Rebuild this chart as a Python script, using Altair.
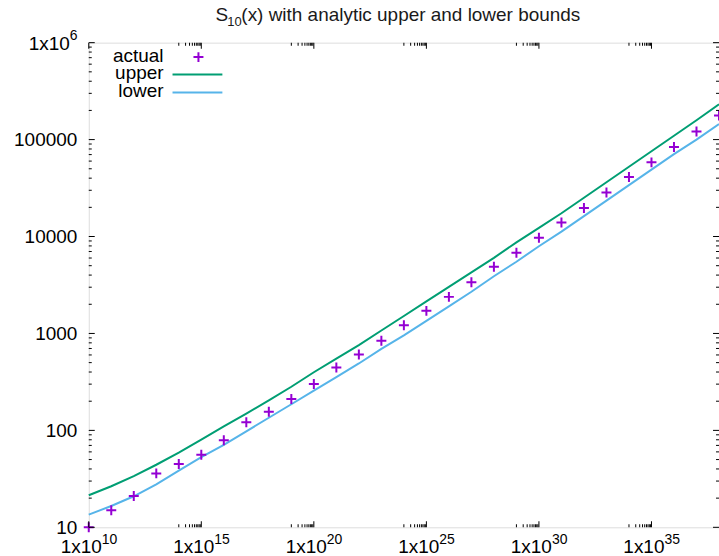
import altair as alt
import pandas as pd

# ---- data ----
x_values = [1e10, 1e11, 1e12, 1e13, 1e14, 1e15, 1e16, 1e17, 1e18, 1e19, 1e20,
            1e21, 1e22, 1e23, 1e24, 1e25, 1e26, 1e27, 1e28, 1e29, 1e30,
            1e31, 1e32, 1e33, 1e34, 1e35, 1e36, 1e37, 1e38]
actual = [10, 15, 21, 36, 45, 56, 79, 121, 156, 211, 301,
          446, 607, 839, 1216, 1710, 2384, 3373, 4876, 6792, 9700,
          13970, 19730, 28440, 41100, 58200, 83700, 121400, 177000]
upper = [21.4, 26.5, 33.8, 44.2, 58.9, 80.4, 110, 149, 204, 282, 398,
         550, 759, 1072, 1514, 2138, 3020, 4266, 6026, 8710, 12300,
         17380, 25120, 36310, 52480, 75860, 109600, 158500, 231700]
lower = [13.5, 16.6, 20.9, 27.8, 38.5, 53.0, 70.8, 97.7, 135, 186, 257,
         355, 490, 692, 955, 1349, 1905, 2692, 3890, 5495, 7943,
         11220, 16220, 23440, 33880, 48980, 70790, 100000, 144500]

series_names = ["actual", "upper", "lower"]
title_parts = ["S", "10", "(x) with analytic upper and lower bounds"]

x_major = [1e10, 1e15, 1e20, 1e25, 1e30, 1e35]
x_major_exp = ["10", "15", "20", "25", "30", "35"]
x_minor = [k * 10.0 ** (m - 1) for m in (15, 20, 25, 30, 35) for k in range(1, 10)]
y_label_values = [10, 100, 1000, 10000, 100000]
y_major = [10, 100, 1000, 10000, 100000, 1000000]
y_minor = [k * 10.0 ** n for n in range(1, 6) for k in range(2, 10)]

PURPLE = "#9400D3"
GREEN = "#009E73"
BLUE = "#56B4E9"
FONT = "Liberation Sans"

df = pd.DataFrame({"x": x_values, "actual": actual, "upper": upper, "lower": lower})

xs = alt.Scale(type="log", domain=[1e10, 1e38], nice=False)
ys = alt.Scale(type="log", domain=[10, 1e6], nice=False)

X = alt.X("x:Q", scale=xs, axis=None)
yaxis = alt.Axis(values=y_label_values, labelExpr="format(datum.value, 'd')",
                 ticks=False, tickSize=0, domain=False, grid=False, title=None,
                 labelFont=FONT, labelFontSize=19, labelColor="black",
                 labelPadding=12)

base = alt.Chart(df)
upper_line = base.mark_line(color=GREEN, strokeWidth=2).encode(
    x=X, y=alt.Y("upper:Q", scale=ys, axis=yaxis))
lower_line = base.mark_line(color=BLUE, strokeWidth=2).encode(
    x=X, y=alt.Y("lower:Q", scale=ys))
points = base.mark_point(shape="M-1,0L1,0M0,-1L0,1", size=100, filled=False,
                         stroke=PURPLE, strokeWidth=2, opacity=1).encode(
    x=X, y=alt.Y("actual:Q", scale=ys))

# ---- inward tick marks ----
def ticks_y(vals, length, at_x, off):
    return alt.Chart(pd.DataFrame({"v": vals})).mark_tick(
        orient="horizontal", size=length, thickness=1, color="black",
        opacity=1, xOffset=off).encode(
        x=alt.datum(at_x, scale=xs), y=alt.Y("v:Q", scale=ys))

def ticks_x(vals, length, at_y, off):
    return alt.Chart(pd.DataFrame({"v": vals})).mark_tick(
        orient="vertical", size=length, thickness=1, color="black",
        opacity=1, yOffset=off).encode(
        x=alt.X("v:Q", scale=xs), y=alt.datum(at_y, scale=ys))

tick_layers = [
    ticks_y(y_major, 6, 1e10, 3), ticks_y(y_minor, 3, 1e10, 1.5),
    ticks_y(y_major, 6, 1e38, -3), ticks_y(y_minor, 3, 1e38, -1.5),
    ticks_x(x_major, 6, 10, -3), ticks_x(x_minor, 3, 10, -1.5),
    ticks_x(x_major, 6, 1e6, 3), ticks_x(x_minor, 3, 1e6, 1.5),
]

# ---- x tick labels 1x10^n ----
xlab_df = pd.DataFrame({"v": x_major, "e": x_major_exp})
xlab_base = alt.Chart(xlab_df).mark_text(
    font=FONT, fontSize=19, align="right", baseline="alphabetic",
    dx=13, dy=26, color="black").encode(
    x=alt.X("v:Q", scale=xs), y=alt.datum(10, scale=ys), text=alt.value("1x10"))
xlab_exp = alt.Chart(xlab_df).mark_text(
    font=FONT, fontSize=14, align="left", baseline="alphabetic",
    dx=13, dy=17, color="black").encode(
    x=alt.X("v:Q", scale=xs), y=alt.datum(10, scale=ys), text="e:N")

# ---- top y label 1x10^6 ----
one = alt.Data(values=[{}])
ylab_base = alt.Chart(one).mark_text(
    font=FONT, fontSize=19, align="right", baseline="alphabetic",
    dx=-19, dy=7, color="black").encode(
    x=alt.datum(1e10, scale=xs), y=alt.datum(1e6, scale=ys), text=alt.value("1x10"))
ylab_exp = alt.Chart(one).mark_text(
    font=FONT, fontSize=14, align="left", baseline="alphabetic",
    dx=-19, dy=-3, color="black").encode(
    x=alt.datum(1e10, scale=xs), y=alt.datum(1e6, scale=ys), text=alt.value("6"))

# ---- title with subscript ----
t1 = alt.Chart(one).mark_text(font=FONT, fontSize=19, align="left",
                              baseline="alphabetic", color="#1a1a1a").encode(
    x=alt.value(127), y=alt.value(-22), text=alt.value(title_parts[0]))
t2 = alt.Chart(one).mark_text(font=FONT, fontSize=13, align="left",
                              baseline="alphabetic", color="#1a1a1a").encode(
    x=alt.value(139), y=alt.value(-17), text=alt.value(title_parts[1]))
t3 = alt.Chart(one).mark_text(font=FONT, fontSize=19, align="left",
                              baseline="alphabetic", color="#1a1a1a").encode(
    x=alt.value(153), y=alt.value(-22), text=alt.value(title_parts[2]))

# ---- key (gnuplot style: label then sample) ----
def key_text(label, ypix):
    return alt.Chart(one).mark_text(font=FONT, fontSize=19, align="right",
                                    baseline="alphabetic", color="black").encode(
        x=alt.value(75), y=alt.value(ypix), text=alt.value(label))

k_actual_t = key_text(series_names[0], 19.5)
k_upper_t = key_text(series_names[1], 36.5)
k_lower_t = key_text(series_names[2], 54)
k_actual_m = alt.Chart(one).mark_point(shape="M-1,0L1,0M0,-1L0,1", size=100,
                                       filled=False, stroke=PURPLE, strokeWidth=2,
                                       opacity=1).encode(
    x=alt.value(110), y=alt.value(14.5))
k_upper_l = alt.Chart(one).mark_rule(color=GREEN, strokeWidth=2).encode(
    x=alt.value(84), x2=alt.value(134), y=alt.value(32))
k_lower_l = alt.Chart(one).mark_rule(color=BLUE, strokeWidth=2).encode(
    x=alt.value(84), x2=alt.value(134), y=alt.value(50))

chart = alt.layer(
    upper_line, lower_line, points,
    *tick_layers,
    xlab_base, xlab_exp, ylab_base, ylab_exp,
    t1, t2, t3,
    k_actual_t, k_upper_t, k_lower_t, k_actual_m, k_upper_l, k_lower_l,
).properties(
    width=632, height=486,
    autosize=alt.AutoSizeParams(type="none"),
    padding={"left": 89, "top": 42, "right": 0, "bottom": 28},
).configure_view(stroke="black", strokeWidth=1).configure(background="white")

chart.save("out.html", embed_options={"renderer": "svg", "actions": False})
